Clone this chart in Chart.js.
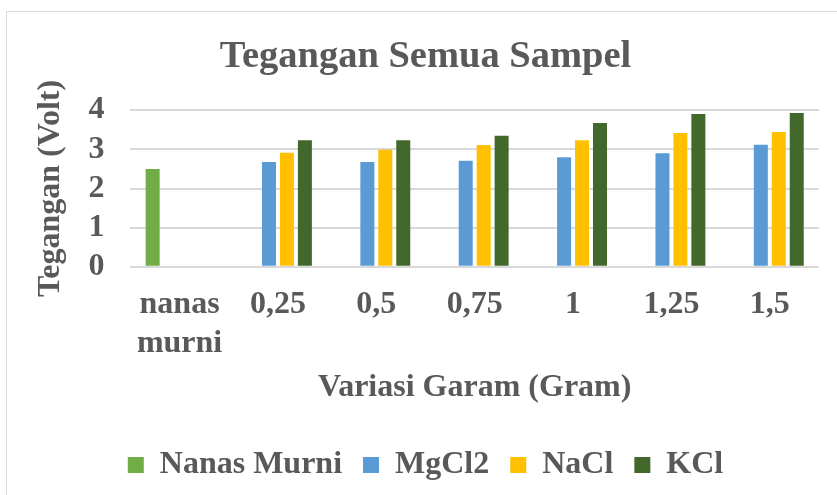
<!DOCTYPE html>
<html>
<head>
<meta charset="utf-8">
<script src="https://cdn.jsdelivr.net/npm/chart.js@4.4.1/dist/chart.umd.min.js"></script>
<style>
    html, body { margin: 0; padding: 0; background: #fff; }
    .wrap { position: relative; width: 837px; height: 495px; overflow: hidden; }
    .frame { position: absolute; left: 6px; top: 11px; width: 900px; height: 600px; border: 1px solid #d9d9d9; }
    canvas { position: absolute; left: 0; top: 0; }
</style>
</head>
<body>
<div class="wrap">
    <div class="frame"></div>
    <canvas id="grafik" width="837" height="495"></canvas>
</div>
<script>
// data
const kategori = [['nanas', 'murni'], '0,25', '0,5', '0,75', '1', '1,25', '1,5'];
const nanasMurni = [2.50, null, null, null, null, null, null];
const mgcl2 = [null, 2.68, 2.68, 2.71, 2.80, 2.90, 3.12];
const nacl = [null, 2.91, 2.99, 3.11, 3.23, 3.42, 3.44];
const kcl = [null, 3.23, 3.23, 3.35, 3.67, 3.90, 3.93];
const yTicks = [0, 1, 2, 3, 4];

const abu = '#595959';

Chart.defaults.font.family = 'Liberation Serif';
Chart.defaults.font.weight = 'bold';

const ctx = document.getElementById('grafik');

new Chart(ctx, {
    type: 'bar',
    data: {
        labels: kategori,
        datasets: [
            { label: 'Nanas Murni', data: nanasMurni, backgroundColor: '#70ad47' },
            { label: 'MgCl2', data: mgcl2, backgroundColor: '#5b9bd5' },
            { label: 'NaCl', data: nacl, backgroundColor: '#ffc000' },
            { label: 'KCl', data: kcl, backgroundColor: '#43682b' }
        ]
    },
    options: {
        responsive: false,
        animation: false,
        devicePixelRatio: 1,
        layout: {
            padding: { left: 32, right: 18, top: 34, bottom: 4 }
        },
        datasets: {
            bar: {
                categoryPercentage: 0.73,
                barPercentage: 0.78
            }
        },
        plugins: {
            title: {
                display: true,
                text: 'Tegangan Semua Sampel',
                color: abu,
                font: { size: 38.5 },
                padding: { top: 0, bottom: 30 }
            },
            legend: {
                position: 'bottom',
                labels: {
                    color: abu,
                    boxWidth: 16,
                    boxHeight: 16,
                    padding: 21,
                    font: { size: 32 }
                }
            },
            tooltip: { enabled: false }
        },
        scales: {
            x: {
                grid: { display: false },
                border: { display: false },
                ticks: {
                    color: abu,
                    maxRotation: 0,
                    padding: 11,
                    font: { size: 32 }
                },
                title: {
                    display: true,
                    text: 'Variasi Garam (Gram)',
                    color: abu,
                    padding: { top: -5, bottom: 21 },
                    font: { size: 32 }
                }
            },
            y: {
                min: 0,
                max: 4,
                afterBuildTicks: (axis) => {
                    axis.ticks = yTicks.map(v => ({ value: v }));
                },
                grid: { color: '#d9d9d9', lineWidth: 2, drawTicks: false },
                border: { display: false },
                ticks: {
                    color: abu,
                    padding: 26,
                    autoSkip: false,
                    font: { size: 32 }
                },
                title: {
                    display: true,
                    text: 'Tegangan (Volt)',
                    color: abu,
                    padding: { top: 0, bottom: -8 },
                    font: { size: 32 }
                }
            }
        }
    }
});
</script>
</body>
</html>
